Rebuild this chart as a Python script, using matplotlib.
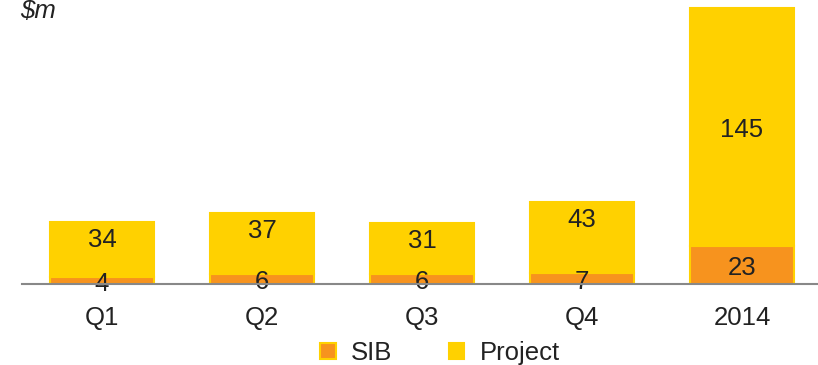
import numpy as np
import matplotlib.pyplot as plt
from matplotlib.patches import Patch

plt.rcParams['font.family'] = ['Liberation Sans', 'DejaVu Sans']

periods = ["Q1", "Q2", "Q3", "Q4", "2014"]
sib = [4, 6, 6, 7, 23]
project = [34, 37, 31, 43, 145]

orange = "#F7931E"
yellow = "#FFD100"
fs = 18.5

fig = plt.figure(figsize=(8.18, 3.65), dpi=100)
ax = fig.add_axes([22 / 818, 81 / 365, 800 / 818, 279 / 365])

x = np.arange(len(periods))
w = 0.65
ax.bar(x, sib, w, color=orange, edgecolor=yellow, linewidth=1.5, zorder=2)
ax.bar(x, project, w, bottom=sib, color=yellow, edgecolor=yellow, linewidth=1.5, zorder=2)

# value labels
for i in range(len(periods)):
    ax.text(x[i], sib[i] / 2 - 2, str(sib[i]), ha="center", va="center",
            fontsize=fs, color="#222222", zorder=3)
    top = sib[i] + project[i]
    if project[i] < 60:
        ypos = top - 11
    else:
        ypos = sib[i] + project[i] / 2 - 1.5
    ax.text(x[i], ypos, str(project[i]), ha="center", va="center",
            fontsize=fs, color="#222222", zorder=3)

ax.set_xlim(-0.5, 4.5)
ax.set_ylim(0, 170)
ax.set_xticks(x)
ax.set_xticklabels(periods, fontsize=fs, color="#222222")
ax.tick_params(axis="x", length=0, pad=16)
ax.set_yticks([])
for s in ["top", "right", "left"]:
    ax.spines[s].set_visible(False)
ax.spines["bottom"].set_color("#888888")
ax.spines["bottom"].set_linewidth(1.5)
ax.spines["bottom"].set_zorder(4)

fig.text(20 / 818, 1 - 11 / 365, r"\$m", fontsize=fs, style="italic",
         ha="left", va="center", color="#222222")

handles = [Patch(facecolor=orange, edgecolor=yellow, linewidth=1.5),
           Patch(facecolor=yellow, edgecolor=yellow, linewidth=1.5)]
fig.legend(handles, ["SIB", "Project"], loc="center", ncol=2,
           bbox_to_anchor=(440 / 818, 1 - 353 / 365), frameon=False,
           fontsize=fs, handlelength=0.6, handleheight=0.6,
           handletextpad=0.6, columnspacing=2.2, labelcolor="#222222")

fig.savefig("out.png", dpi=100)
